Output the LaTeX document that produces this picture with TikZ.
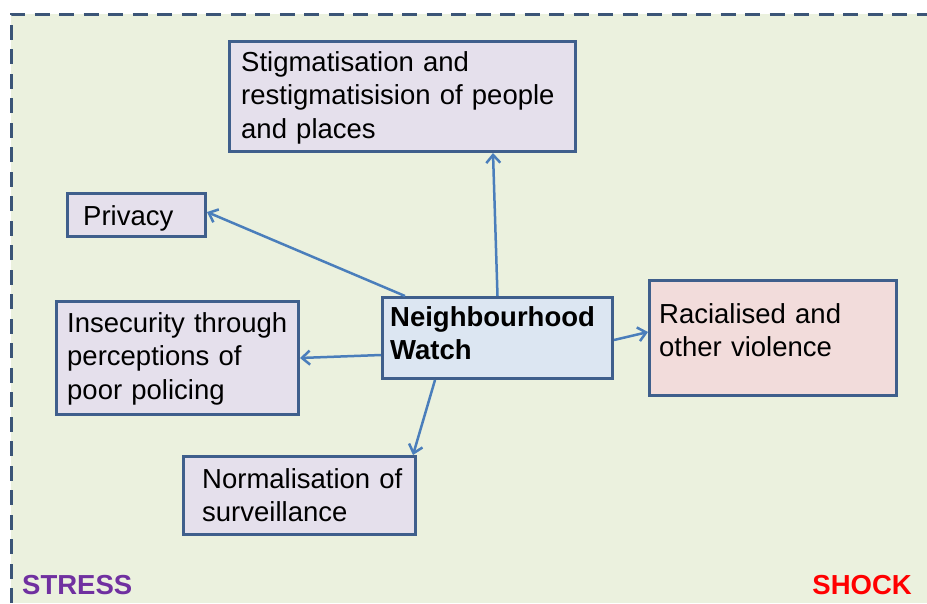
\documentclass[tikz,border=0pt]{standalone}
\usepackage{fontspec}
\setmainfont{Liberation Sans}
\usetikzlibrary{arrows.meta}
\definecolor{bgc}{HTML}{EBF1DE}
\definecolor{lav}{HTML}{E5E0EC}
\definecolor{nwb}{HTML}{DCE6F2}
\definecolor{pinkc}{HTML}{F2DCDB}
\definecolor{edgec}{HTML}{3F5F8C}
\definecolor{arrc}{HTML}{4A7EBB}
\definecolor{dashc}{HTML}{3B5577}
\definecolor{stressc}{HTML}{7030A0}
\definecolor{shockc}{HTML}{FF0000}
\tikzset{
  boxc/.style={draw=edgec, line width=3pt, rectangle, inner sep=0pt},
  txt/.style={anchor=base west, inner sep=0pt, text width=320pt, align=left,
    font=\fontsize{27.5}{33.5}\selectfont},
  arr/.style={draw=arrc, line width=2.5pt,
    -{Straight Barb[length=8pt,width=14pt,line width=2.5pt]}},
  corner/.style={font=\fontsize{27.5}{33}\selectfont\bfseries, inner sep=0pt, anchor=base west}
}
\begin{document}
\begin{tikzpicture}[x=1pt,y=-1pt]
\useasboundingbox (0,0) rectangle (927,603);
\fill[bgc] (11,14) rectangle (927,603);
\draw[dashc, line width=3pt, dash pattern=on 15pt off 9.5pt] (11,603) -- (11,14) -- (927,14);

% boxes
\node[boxc, fill=lav, minimum width=346pt, minimum height=110pt] (stig) at (402.5,96.5) {};
\node[boxc, fill=lav, minimum width=138pt, minimum height=43pt] (priv) at (136.5,215) {};
\node[boxc, fill=lav, minimum width=242pt, minimum height=113pt] (insec) at (177.5,358) {};
\node[boxc, fill=nwb, minimum width=230pt, minimum height=81pt] (nw) at (497.5,338) {};
\node[boxc, fill=pinkc, minimum width=247pt, minimum height=115pt] (rac) at (773,338) {};
\node[boxc, fill=lav, minimum width=232pt, minimum height=78pt] (norm) at (299.5,495.5) {};

% texts
\node[txt] (stigt) at (241,71) {Stigmatisation and\\restigmatisision of people\\and places};
\node[txt] (privt) at (83,225) {Privacy};
\node[txt] (insect) at (67,332) {Insecurity through\\perceptions of\\poor policing};
\node[txt, font=\fontsize{27.5}{33.5}\selectfont\bfseries] (nwt) at (390,326) {Neighbourhood\\Watch};
\node[txt] (ract) at (659,323) {Racialised and\\other violence};
\node[txt] (normt) at (202,488) {Normalisation of\\surveillance};

\node[corner, text=stressc] (stress) at (22,594) {STRESS};
\node[corner, text=shockc, anchor=base east] (shock) at (912,594) {SHOCK};

% arrows
\draw[arr] (nw.north) -- ([xshift=90.5pt]stig.south);
\draw[arr] ([xshift=24pt]nw.north west) -- ([yshift=3pt]priv.east);
\draw[arr] ([yshift=-17pt]nw.west) -- (insec.east);
\draw[arr] ([xshift=-62.5pt]nw.south) -- ([xshift=-4pt]norm.north east);
\draw[arr] ([yshift=-2pt]nw.east) -- ([yshift=6pt]rac.west);
\end{tikzpicture}
\end{document}
